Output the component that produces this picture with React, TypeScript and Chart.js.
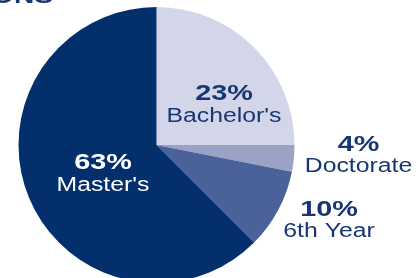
import React, { useEffect, useRef } from "react";
import { Chart, registerables } from "chart.js";

Chart.register(...registerables);

// Categories (clockwise from 12 o'clock)
const categories = ["Bachelor's", "Doctorate", "6th Year", "Master's"];
// Slice sizes as drawn in the picture (percent of the circle)
const sliceValues = [25, 3.1, 9.4, 62.5];
// Printed percentage labels
const percentLabels = ["23%", "4%", "10%", "63%"];
const sliceColors = ["#d3d6e8", "#9aa2c6", "#4a6299", "#032f6d"];
const titleText = "ONS";

const NAVY = "#173674";
// label anchors relative to pie centre, in units of the radius
const labelOffsets = [
  [0.489, -0.326],
  [1.464, 0.043],
  [1.25, 0.512],
  [-0.388, 0.174],
];
const labelColors = [NAVY, NAVY, NAVY, "#ffffff"];

const labelPlugin = {
  id: "sliceLabels",
  afterDatasetsDraw(chart: any) {
    const ctx = chart.ctx as CanvasRenderingContext2D;
    const meta = chart.getDatasetMeta(0);
    const arc0 = meta.data[0] as any;
    if (!arc0) return;
    const cx = arc0.x;
    const cy = arc0.y;
    const r = arc0.outerRadius;
    ctx.save();
    ctx.textAlign = "center";
    ctx.textBaseline = "alphabetic";
    categories.forEach((name, i) => {
      const [ox, oy] = labelOffsets[i];
      const x = cx + ox * r;
      const y = cy + oy * r;
      ctx.fillStyle = labelColors[i];
      ctx.save();
      ctx.translate(x, y);
      ctx.scale(1.28, 1);
      ctx.font = "bold 22.5px 'Liberation Sans', Arial, sans-serif";
      ctx.fillText(percentLabels[i], 0, 0);
      ctx.restore();
      ctx.save();
      ctx.translate(x, y);
      ctx.scale(1.24, 1);
      ctx.font = "20px 'Liberation Sans', Arial, sans-serif";
      ctx.fillText(name, 0, 21.5);
      ctx.restore();
    });
    // cropped title at the very top
    ctx.fillStyle = NAVY;
    ctx.save();
    ctx.translate(53, 3);
    ctx.scale(1.28, 1);
    ctx.textAlign = "right";
    ctx.font = "bold 22px 'Liberation Sans', Arial, sans-serif";
    ctx.fillText(titleText, 0, 0);
    ctx.restore();
    ctx.restore();
  },
};

export default function App() {
  const ref = useRef<HTMLCanvasElement | null>(null);
  useEffect(() => {
    document.body.style.margin = "0";
    if (!ref.current) return;
    const chart = new Chart(ref.current, {
      type: "pie",
      data: {
        labels: categories,
        datasets: [
          {
            data: sliceValues,
            backgroundColor: sliceColors,
            borderWidth: 0,
            hoverOffset: 0,
          },
        ],
      },
      options: {
        responsive: false,
        animation: false,
        layout: { padding: { top: 7, bottom: 7, left: 18.5, right: 121.5 } },
        plugins: {
          legend: { display: false },
          tooltip: { enabled: false },
        },
      },
      plugins: [labelPlugin],
    });
    return () => chart.destroy();
  }, []);
  return (
    <div
      style={{
        position: "absolute",
        left: 0,
        top: 0,
        width: 416,
        height: 278,
        overflow: "hidden",
        background: "#ffffff",
      }}
    >
      <canvas ref={ref} width={416} height={290} style={{ width: 416, height: 290, display: "block" }} />
    </div>
  );
}
